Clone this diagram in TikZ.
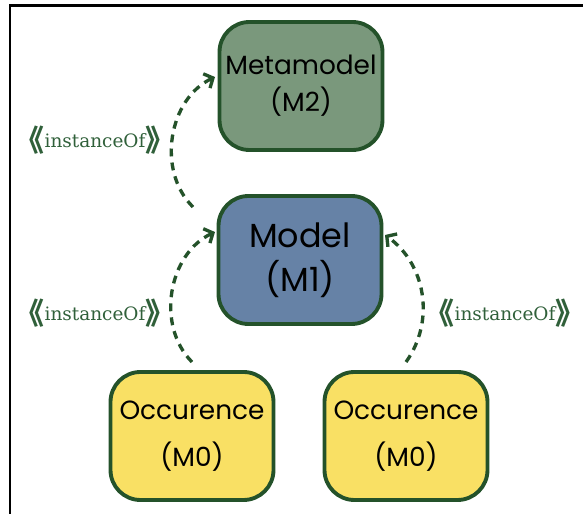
\documentclass[tikz,border=0pt]{standalone}
\usepackage{fontspec}
\usetikzlibrary{arrows.meta}
\newfontfamily\boxfont{Poppins}
\newfontfamily\tagfont{DejaVu Serif}
\newfontfamily\cjkfont{Noto Sans CJK SC}
\definecolor{edgegreen}{RGB}{36,82,42}
\definecolor{tagcolor}{RGB}{48,96,58}
\definecolor{metafill}{RGB}{122,152,124}
\definecolor{modelfill}{RGB}{102,130,166}
\definecolor{occfill}{RGB}{249,224,100}
\newcommand{\brk}[1]{\raisebox{-2pt}{\cjkfont\bfseries\fontsize{17}{17}\selectfont #1}}
\newcommand{\instof}{\brk{《}instanceOf\brk{》}}
\tikzset{
  layer/.style={draw=edgegreen, line width=2.2pt, rounded corners=0.6cm,
    minimum width=3.26cm, minimum height=2.56cm, align=center, text=black},
  instarrow/.style={edgegreen, line width=1.9pt, dash pattern=on 4.5pt off 3.5pt,
    -{Straight Barb[length=4pt,width=9pt]}},
  tag/.style={text=tagcolor, font=\tagfont\fontsize{10.5}{12}\selectfont}
}
\begin{document}
\begin{tikzpicture}
\useasboundingbox (0,0) rectangle (11.66,10.28);
\coordinate (FB) at (0.2,-1.00); % frame bottom
\coordinate (FR) at (12.5,10.16); % frame right
\draw[line width=1.7pt] (FB) |- (FR);
\node[layer, fill=metafill, font=\boxfont\fontsize{15}{21}\selectfont] (meta) at (6.02, 8.56) {Metamodel\\(M2)};
\node[layer, fill=modelfill, font=\boxfont\fontsize{19}{25}\selectfont] (model) at (6.00, 5.08) {Model\\(M1)};
\node[layer, fill=occfill, font=\boxfont\fontsize{15}{27}\selectfont] (occl) at (3.84, 1.56) {Occurence\\(M0)};
\node[layer, fill=occfill, font=\boxfont\fontsize{15}{27}\selectfont] (occr) at (8.12, 1.56) {Occurence\\(M0)};
\coordinate (S1) at (3.86, 6.14); % start above model
\coordinate (T1) at (4.30, 8.74); % tip at metamodel
\coordinate (S2) at (3.84, 3.04); % start above left occurence
\coordinate (T2) at (4.30, 5.64); % tip at model, left
\coordinate (S3) at (8.12, 3.04); % start above right occurence
\coordinate (T3) at (7.70, 5.58); % tip at model, right
\draw[instarrow] (S1) to[bend left=55] (T1);
\draw[instarrow] (S2) to[bend left=55] (T2);
\draw[instarrow] (S3) to[bend right=45] (T3);
\node[tag] (tagmeta) at (1.90, 7.48) {\instof};
\node[tag] (tagleft) at (1.90, 4.02) {\instof};
\node[tag] (tagright) at (10.10, 4.02) {\instof};
\end{tikzpicture}
\end{document}
